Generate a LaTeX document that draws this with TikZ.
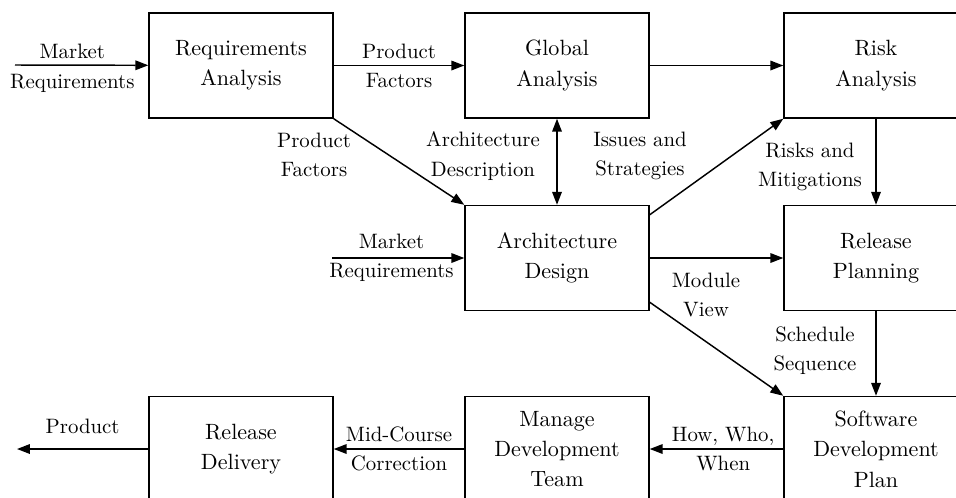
\documentclass[tikz,border=0pt]{standalone}
\usepackage{fontspec}
\usetikzlibrary{arrows.meta,calc}

\begin{document}
\begin{tikzpicture}[x=0.48pt,y=-0.48pt,
		box/.style={draw, line width=0.7pt, minimum width=88.3pt, minimum height=50.4pt, inner sep=0pt, align=center, font=\fontsize{10.6}{14.6}\selectfont},
		lbl/.style={align=center, inner sep=1pt, font=\fontsize{10}{14}\selectfont},
		arr/.style={line width=0.7pt, -{Triangle[length=6.2pt,width=4.6pt]}},
		darr/.style={line width=0.7pt, {Triangle[length=6.2pt,width=4.6pt]}-{Triangle[length=6.2pt,width=4.6pt]}}]
		\useasboundingbox (0,0) rectangle (956,497);
		\clip (0,0) rectangle (956,497);

		\coordinate (mktin) at (15,65);
		\coordinate (mktin2) at (332,258);
		\coordinate (prodout) at (17,449);

		\node[box] (req) at (241,65.5) {Requirements\\Analysis};
		\node[box] (glob) at (557,65.5) {Global\\Analysis};
		\node[box] (risk) at (876,65.5) {Risk\\Analysis};
		\node[box] (arch) at (557,258) {Architecture\\Design};
		\node[box] (rel) at (876,258) {Release\\Planning};
		\node[box] (sdp) at (876,449) {Software\\Development\\Plan};
		\node[box] (team) at (557,449) {Manage\\Development\\Team};
		\node[box] (deliv) at (241,449) {Release\\Delivery};

		\draw[arr] (mktin) -- (req) node[lbl, pos=0.43, yshift=-1.5pt] {Market\\Requirements};
		\draw[arr] (req) -- (glob) node[lbl, midway] {Product\\Factors};
		\draw[arr] (glob) -- (risk);
		\draw[arr] (req.south east) -- (arch.north west);
		\draw[darr] (glob) -- (arch);
		\draw[arr] ($(arch.north east)+(0,10)$) -- (risk.south west);
		\draw[arr] (risk) -- (rel);
		\draw[arr] (mktin2) -- (arch) node[lbl, pos=0.45] {Market\\Requirements};
		\draw[arr] (arch) -- (rel);
		\draw[arr] ($(arch.south east)+(0,-9)$) -- (sdp.north west);
		\draw[arr] (rel) -- (sdp);
		\draw[arr] (sdp) -- (team) node[lbl, pos=0.45] {How, Who,\\When};
		\draw[arr] (team) -- (deliv) node[lbl, midway] {Mid-Course\\Correction};
		\draw[arr] (deliv) -- (prodout) node[lbl, midway, above=6pt] {Product};

		% labels beside the connectors
		\node[lbl] (pfac) at (314,155) {Product\\Factors};
		\node[lbl] (adesc) at (483,156) {Architecture\\Description};
		\node[lbl] (issues) at (640,156) {Issues and\\Strategies};
		\node[lbl] (risks) at (810,167) {Risks and\\Mitigations};
		\node[lbl] (modv) at (706,295) {Module\\View};
		\node[lbl] (sched) at (815,351) {Schedule\\Sequence};
	\end{tikzpicture}
\end{document}
